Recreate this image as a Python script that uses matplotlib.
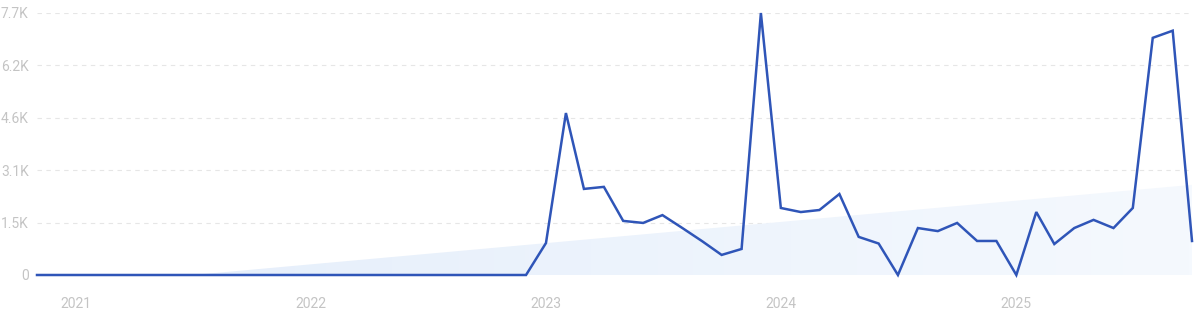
import matplotlib
matplotlib.use("Agg")
import matplotlib.pyplot as plt
import matplotlib.dates as mdates
import numpy as np
import pandas as pd
from matplotlib.patches import Polygon
from matplotlib.colors import LinearSegmentedColormap

plt.rcParams['font.family'] = ['Roboto', 'DejaVu Sans']

# monthly values, Nov 2020 .. Oct 2025
months = pd.date_range("2020-11-01", "2025-10-01", freq="MS")
values = [0] * 26 + [
    940, 4760, 2530, 2590, 1590, 1530, 1760, 1380, 990, 590, 765, 7700,
    1970, 1850, 1910, 2380, 1120, 925, 0, 1380, 1290, 1530, 1000, 1000,
    0, 1850, 910, 1380, 1620, 1380, 1970, 6970, 7180, 1000,
]

# trend band (start / end)
trend_dates = pd.to_datetime(["2021-07-01", "2025-10-01"])
trend_vals = [0, 2650]

yticks = [0, 1540, 3080, 4620, 6160, 7700]
ylabels = ["0", "1.5K", "3.1K", "4.6K", "6.2K", "7.7K"]
years = ["2021", "2022", "2023", "2024", "2025"]

line_col = "#2f55b8"
txt_col = "#c4c4c4"

fig = plt.figure(figsize=(12, 3.13), dpi=100)
ax = fig.add_axes([37 / 1200, 1 - 275 / 313, (1192 - 37) / 1200, 262 / 313])

x0 = mdates.date2num(months[0])
x1 = mdates.date2num(months[-1])
tx = mdates.date2num(trend_dates)

# gradient-filled trend area
grad = np.linspace(0, 1, 256).reshape(1, -1)
cmap = LinearSegmentedColormap.from_list("g", ["#e6effb", "#f5f9fe"])
im = ax.imshow(grad, cmap=cmap, aspect="auto", extent=[tx[0], tx[1], 0, trend_vals[1]],
               zorder=1)
poly = Polygon([[tx[0], 0], [tx[1], trend_vals[1]], [tx[1], 0]], closed=True,
               facecolor="none", edgecolor="none")
ax.add_patch(poly)
im.set_clip_path(poly)

ax.plot(months, values, color=line_col, lw=1.8, zorder=3, clip_on=False,
        solid_joinstyle="miter")

ax.set_xlim(x0, x1)
ax.set_ylim(0, 7700)

ax.set_yticks(yticks)
ax.set_yticklabels(ylabels)
for y in yticks[1:]:
    ax.axhline(y, color="#e6e6e6", lw=0.8, ls=(0, (4, 4)), zorder=0)

ax.set_xticks([mdates.date2num(pd.Timestamp(y + "-01-01")) for y in years])
ax.set_xticklabels(years)

ax.tick_params(axis="y", length=0, pad=6, labelsize=10, labelcolor=txt_col)
ax.tick_params(axis="x", length=0, pad=16, labelsize=10, labelcolor=txt_col)
for s in ax.spines.values():
    s.set_visible(False)

fig.savefig("out.png", dpi=100)
